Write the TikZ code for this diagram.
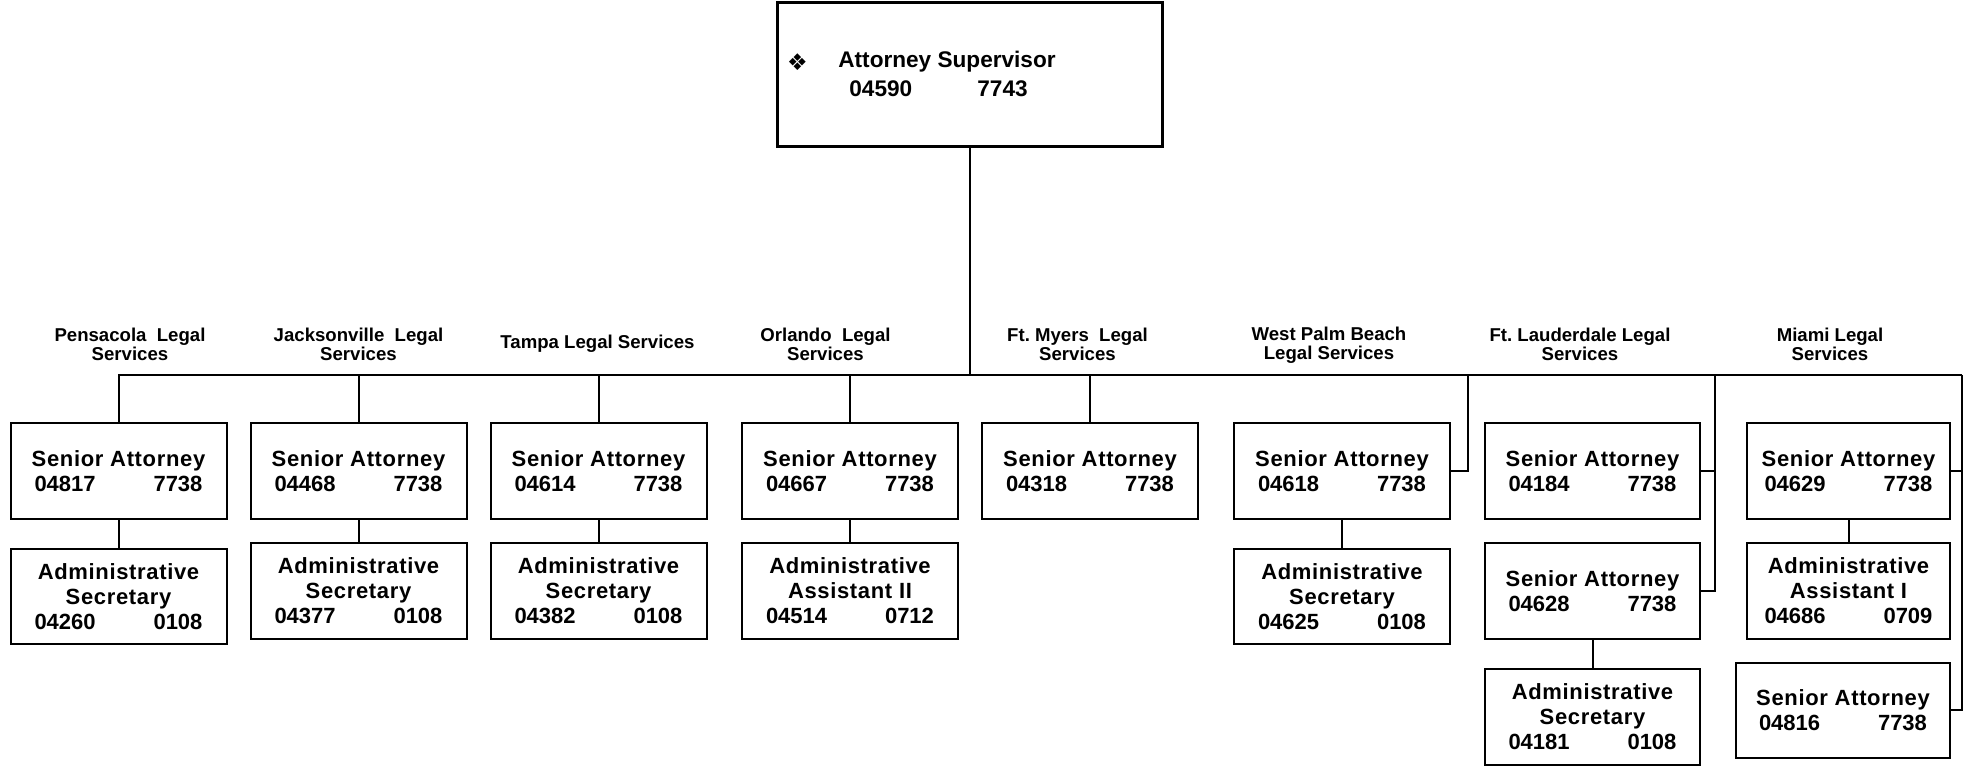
\documentclass[tikz,border=0pt]{standalone}
\usepackage{fontspec}
\setmainfont{Liberation Sans}
\newfontfamily\symfont{DejaVu Sans}
\newfontfamily\trackedfont[LetterSpace=3]{Liberation Sans}
\frenchspacing
% position title (slightly tracked) and the two code numbers
\newcommand{\cxTitle}[1]{{\trackedfont\bfseries #1}}
\newcommand{\cxNums}[2]{\makebox[84pt]{#1\hfill #2}}
\begin{document}
\begin{tikzpicture}[x=0.5pt,y=-0.5pt,
  box/.style={draw, line width=1pt, rectangle, inner sep=0pt, align=center,
    minimum width=108pt, minimum height=48pt,
    font=\fontsize{11}{12.5}\selectfont\bfseries},
  hdr/.style={inner sep=0pt, align=center, font=\fontsize{9.3}{9.5}\selectfont\bfseries},
  topbox/.style={draw, line width=1.5pt, rectangle, minimum width=192.5pt, minimum height=72pt},
  toptext/.style={inner sep=0pt, anchor=base west, font=\fontsize{11.3}{13}\selectfont\bfseries},
  link/.style={line width=1pt}]
\useasboundingbox (0,0) rectangle (1967,769);

% supervisor
\node[topbox] (top) at (969.5,75) {};
\node[inner sep=0pt, font=\symfont\fontsize{11.5}{13}\selectfont] (bul) at (797.5,62) {❖};
\node[toptext] (supt) at (838,68) {Attorney Supervisor};
\node[toptext] (supa) at (849,97) {04590};
\node[toptext] (supb) at (977,97) {7743};

% office headings
\node[hdr] (hP) at (130,344) {Pensacola\ \ Legal\\Services};
\node[hdr] (hJ) at (358.5,344) {Jacksonville\ \ Legal\\Services};
\node[hdr] (hT) at (597.5,344) {Tampa Legal Services};
\node[hdr] (hO) at (825.5,344) {Orlando\ \ Legal\\Services};
\node[hdr] (hM) at (1077.5,344) {Ft. Myers\ \ Legal\\Services};
\node[hdr] (hW) at (1329,345.5) {West Palm Beach\\Legal Services};
\node[hdr] (hL) at (1580,344) {Ft. Lauderdale Legal\\Services};
\node[hdr] (hI) at (1830,344) {Miami Legal\\Services};

% Pensacola
\node[box] (P1) at (118.5,471) {\cxTitle{Senior Attorney}\\\cxNums{04817}{7738}};
\node[box, minimum height=47.5pt] (P2) at (118.5,596.5) {\cxTitle{Administrative}\\\cxTitle{Secretary}\\\cxNums{04260}{0108}};
% Jacksonville
\node[box] (J1) at (358.5,471) {\cxTitle{Senior Attorney}\\\cxNums{04468}{7738}};
\node[box] (J2) at (358.5,591) {\cxTitle{Administrative}\\\cxTitle{Secretary}\\\cxNums{04377}{0108}};
% Tampa
\node[box] (T1) at (598.5,471) {\cxTitle{Senior Attorney}\\\cxNums{04614}{7738}};
\node[box] (T2) at (598.5,591) {\cxTitle{Administrative}\\\cxTitle{Secretary}\\\cxNums{04382}{0108}};
% Orlando
\node[box] (O1) at (850,471) {\cxTitle{Senior Attorney}\\\cxNums{04667}{7738}};
\node[box] (O2) at (850,591) {\cxTitle{Administrative}\\\cxTitle{Assistant II}\\\cxNums{04514}{0712}};
% Ft. Myers
\node[box] (M1) at (1090,471) {\cxTitle{Senior Attorney}\\\cxNums{04318}{7738}};
% West Palm Beach
\node[box] (W1) at (1342,471) {\cxTitle{Senior Attorney}\\\cxNums{04618}{7738}};
\node[box, minimum height=47.5pt] (W2) at (1342,596.5) {\cxTitle{Administrative}\\\cxTitle{Secretary}\\\cxNums{04625}{0108}};
% Ft. Lauderdale
\node[box, minimum width=107.5pt] (L1) at (1592.5,471) {\cxTitle{Senior Attorney}\\\cxNums{04184}{7738}};
\node[box, minimum width=107.5pt] (L2) at (1592.5,591) {\cxTitle{Senior Attorney}\\\cxNums{04628}{7738}};
\node[box, minimum width=107.5pt] (L3) at (1592.5,717) {\cxTitle{Administrative}\\\cxTitle{Secretary}\\\cxNums{04181}{0108}};
% Miami
\node[box, minimum width=101.5pt] (I1) at (1848.5,471) {\cxTitle{Senior Attorney}\\\cxNums{04629}{7738}};
\node[box, minimum width=101.5pt] (I2) at (1848.5,591) {\cxTitle{Administrative}\\\cxTitle{Assistant I}\\\cxNums{04686}{0709}};
\node[box, minimum width=107pt, minimum height=47.5pt] (I3) at (1843,710.5) {\cxTitle{Senior Attorney}\\\cxNums{04816}{7738}};

% connectors
\coordinate (busL) at (118,375);
\coordinate (busR) at (1962,375);
\coordinate (wpbDrop) at (1468,375);
\coordinate (ftlDrop) at (1715,375);
\draw[link] (top.south) -- (top.south |- busL);
\draw[link] (busL) -- (busR);
\foreach \n in {P1,J1,T1,O1,M1}
  \draw[link] (\n.north |- busL) -- (\n.north);
\draw[link] (P1) -- (P2);
\draw[link] (J1) -- (J2);
\draw[link] (T1) -- (T2);
\draw[link] (O1) -- (O2);
\draw[link] (W1) -- (W2);
\draw[link] (L2) -- (L3);
\draw[link] (I1) -- (I2);
\draw[link] (wpbDrop) |- (W1.east);
\draw[link] (ftlDrop) |- (L2.east);
\draw[link] (L1.east) -- (L1.east -| ftlDrop);
\draw[link] (busR) |- (I3.east);
\draw[link] (I1.east) -- (I1.east -| busR);
\end{tikzpicture}
\end{document}
